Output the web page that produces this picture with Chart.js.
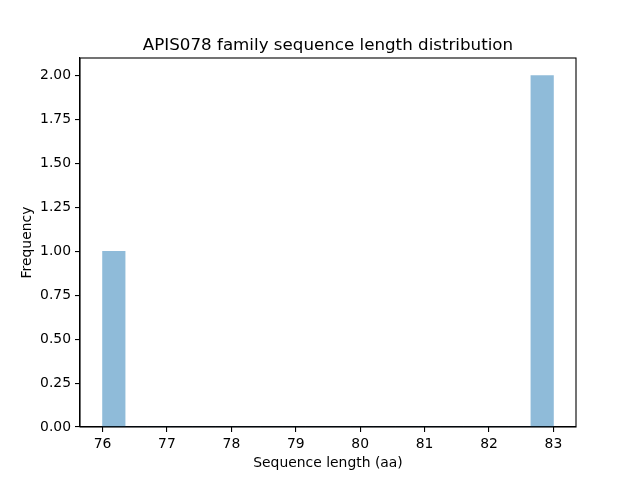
<!DOCTYPE html>
<html>
<head>
<meta charset="utf-8">
<script src="https://cdn.jsdelivr.net/npm/chart.js@4"></script>
<style>
  html, body { margin: 0; padding: 0; background: #fff; }
  #wrap { width: 640px; height: 480px; }
</style>
</head>
<body>
<div id="wrap"><canvas id="histChart" width="640" height="480"></canvas></div>
<script>
// histogram: 20 bins between 76 and 83 aa
const binStart = 76;
const binEnd = 83;
const binCount = 20;
const binCounts = [1, 0, 0, 0, 0, 0, 0, 0, 0, 0, 0, 0, 0, 0, 0, 0, 0, 0, 0, 2];
const xTicks = [76, 77, 78, 79, 80, 81, 82, 83];
const yTicks = [0, 0.25, 0.5, 0.75, 1.0, 1.25, 1.5, 1.75, 2.0];
const chartTitle = 'APIS078 family sequence length distribution';

const binWidth = (binEnd - binStart) / binCount;
const points = binCounts.map((c, i) => ({ x: binStart + binWidth * (i + 0.5), y: c }));

const font = { family: 'DejaVu Sans', size: 13.9 };

// box round the axes + title centred over the axes, like matplotlib
const frameBox = {
    id: 'frameBox',
    afterDraw(chart) {
        const { ctx, chartArea: a } = chart;
        ctx.save();
        ctx.strokeStyle = '#000';
        ctx.lineWidth = 1.1;
        ctx.strokeRect(a.left, a.top, a.right - a.left, a.bottom - a.top);
        ctx.fillStyle = '#000';
        ctx.font = '16.7px "DejaVu Sans"';
        ctx.textAlign = 'center';
        ctx.textBaseline = 'alphabetic';
        ctx.fillText(chartTitle, (a.left + a.right) / 2, a.top - 8.5);
        ctx.restore();
    }
};

new Chart(document.getElementById('histChart').getContext('2d'), {
    type: 'bar',
    data: {
        datasets: [{
            label: 'Sequence length',
            data: points,
            backgroundColor: 'rgba(31, 119, 180, 0.5)',
            borderWidth: 0,
            barPercentage: 1.0,
            categoryPercentage: 1.0
        }]
    },
    options: {
        responsive: false,
        animation: false,
        devicePixelRatio: 1,
        layout: { padding: { top: 58, right: 64, left: 0, bottom: 0 } },
        plugins: {
            legend: { display: false },
            tooltip: { enabled: false },
            title: { display: false }
        },
        scales: {
            x: {
                type: 'linear',
                offset: false,
                min: binStart - (binEnd - binStart) * 0.05,
                max: binEnd + (binEnd - binStart) * 0.05,
                afterBuildTicks: scale => { scale.ticks = xTicks.map(v => ({ value: v })); },
                afterFit: scale => { scale.height = 53; },
                ticks: { color: '#000', font: font, padding: 4, maxRotation: 0, callback: v => String(v) },
                grid: { display: true, offset: false, drawOnChartArea: false, drawTicks: true, tickLength: 5, color: '#000', lineWidth: 1.1 },
                border: { display: true, color: '#000', width: 1.1 },
                title: { display: true, text: 'Sequence length (aa)', color: '#000', font: font, padding: { top: 0, bottom: 8.6 } }
            },
            y: {
                type: 'linear',
                min: 0,
                max: 2.1,
                afterBuildTicks: scale => { scale.ticks = yTicks.map(v => ({ value: v })); },
                afterFit: scale => { scale.width = 80; },
                ticks: { color: '#000', font: font, padding: 4, callback: v => v.toFixed(2) },
                grid: { display: true, drawOnChartArea: false, drawTicks: true, tickLength: 5, color: '#000', lineWidth: 1.1 },
                border: { display: true, color: '#000', width: 1.1 },
                title: { display: true, text: 'Frequency', color: '#000', font: font, padding: { top: 18.6, bottom: 0 } }
            }
        }
    },
    plugins: [frameBox]
});
</script>
</body>
</html>
